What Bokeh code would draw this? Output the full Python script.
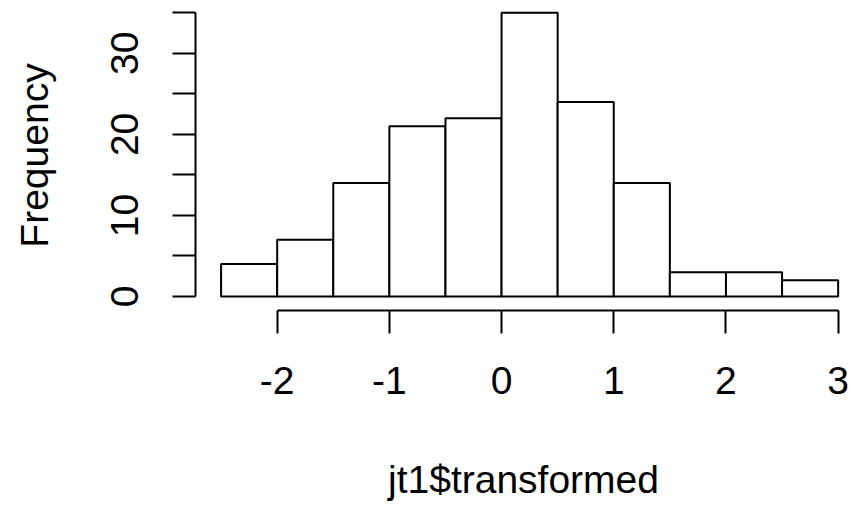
from bokeh.plotting import figure
from bokeh.models import FixedTicker, Range1d
from bokeh.embed import file_html
from bokeh.resources import INLINE

# Histogram of jt1$transformed: bin edges and counts per bin
bin_edges = [-2.5, -2.0, -1.5, -1.0, -0.5, 0.0, 0.5, 1.0, 1.5, 2.0, 2.5, 3.0]
counts = [4, 7, 14, 21, 22, 35, 24, 14, 3, 3, 2]

x_ticks = [-2, -1, 0, 1, 2, 3]
y_ticks = [0, 5, 10, 15, 20, 25, 30, 35]
y_labels = {0: "0", 10: "10", 20: "20", 30: "30"}

FONT = "Liberation Sans"
INK = "#000000"

p = figure(
    width=851, height=515,
    output_backend="svg", toolbar_location=None,
    x_range=Range1d(-2.728, 3.119), y_range=Range1d(-1.727, 36.52),
    min_border_left=195, min_border_bottom=205,
    min_border_top=0, min_border_right=0,
)
p.outline_line_color = None
p.background_fill_color = "white"
p.border_fill_color = "white"
p.grid.visible = False

p.quad(left=bin_edges[:-1], right=bin_edges[1:], bottom=0, top=counts,
       fill_color="white", line_color=INK, line_width=2)

for ax in (p.xaxis[0], p.yaxis[0]):
    ax.axis_line_color = INK
    ax.axis_line_width = 2
    ax.major_tick_line_color = INK
    ax.major_tick_line_width = 2
    ax.major_tick_out = 23
    ax.major_tick_in = 0
    ax.minor_tick_line_color = None
    ax.major_label_text_font = FONT
    ax.major_label_text_font_size = "39px"
    ax.major_label_text_color = INK
    ax.axis_label_text_font = FONT
    ax.axis_label_text_font_size = "39px"
    ax.axis_label_text_font_style = "normal"
    ax.axis_label_text_color = INK

xa = p.xaxis[0]
xa.ticker = FixedTicker(ticks=x_ticks)
xa.bounds = (-2, 3)
xa.major_label_overrides = {t: str(t) for t in x_ticks}
xa.major_label_standoff = 33
xa.axis_label = "jt1$transformed"
xa.axis_label_standoff = 61

ya = p.yaxis[0]
ya.ticker = FixedTicker(ticks=y_ticks)
ya.bounds = (0, 35)
ya.major_label_overrides = {t: y_labels.get(t, "") for t in y_ticks}
ya.major_label_orientation = "vertical"
ya.major_label_standoff = 34
ya.axis_label = "Frequency"
ya.axis_label_standoff = 53

open("out.html", "w").write(file_html(p, INLINE))
